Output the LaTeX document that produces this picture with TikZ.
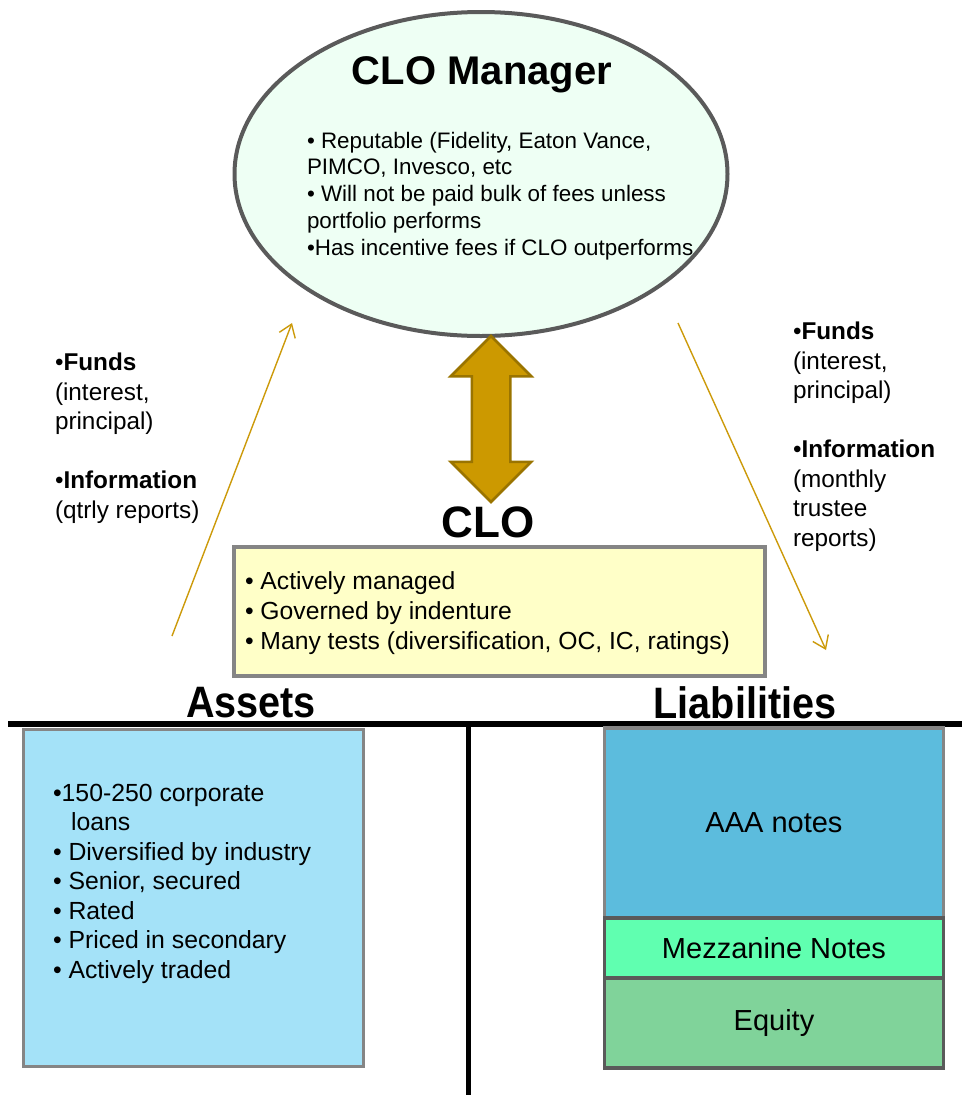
\documentclass[tikz,border=0pt]{standalone}
\usepackage{fontspec}
\setmainfont{Liberation Sans}
\newfontfamily\narrowfont[FakeStretch=0.9]{Liberation Sans}
\usetikzlibrary{shapes.geometric, shapes.arrows, arrows.meta, positioning}
\definecolor{mgrfill}{HTML}{EEFFF4}
\definecolor{mgrline}{HTML}{5A5A5A}
\definecolor{gold}{HTML}{CC9900}
\definecolor{goldline}{HTML}{9A7400}
\definecolor{flowline}{HTML}{CC9A0A}
\definecolor{clofill}{HTML}{FFFFC8}
\definecolor{boxline}{HTML}{858585}
\definecolor{assetfill}{HTML}{A4E2F8}
\definecolor{aaafill}{HTML}{5CBCDD}
\definecolor{mezzfill}{HTML}{60FFB0}
\definecolor{equityfill}{HTML}{80D39A}
\definecolor{tierline}{HTML}{5A5A5A}

\begin{document}
\begin{tikzpicture}[x=1pt, y=-1pt,
    every node/.style={inner sep=0pt, outer sep=0pt},
    mgr/.style={ellipse, draw=mgrline, fill=mgrfill, line width=4pt,
                minimum width=493pt, minimum height=324pt},
    dblarrow/.style={double arrow, rotate=90, draw=goldline, fill=gold,
                line width=2.5pt, minimum height=166pt, inner xsep=0pt,
                inner ysep=18pt, double arrow head extend=21pt,
                double arrow head indent=0pt},
    clobox/.style={draw=boxline, fill=clofill, line width=4pt,
                minimum width=531pt, minimum height=129pt},
    assetbox/.style={draw=boxline, fill=assetfill, line width=3pt,
                minimum width=340pt, minimum height=337pt},
    tier/.style={draw=tierline, line width=3.5pt, minimum width=339pt,
                font=\fontsize{29}{32}\selectfont},
    title/.style={font=\bfseries\fontsize{40}{44}\selectfont},
    side/.style={font=\narrowfont\bfseries\fontsize{44}{48}\selectfont},
    body/.style={align=left, anchor=north west},
    flow/.style={draw=flowline, line width=1.4pt,
                -{Straight Barb[length=12pt, width=17pt]}},
    rule/.style={line width=6pt, black}
]
    \useasboundingbox (0,0) rectangle (962,1095);

    % manager
    \node[mgr] (mgr) at (481,174) {};
    \node[title] (mgrtitle) at (482,75) {CLO Manager};
    \node[body, font=\fontsize{22.4}{26.7}\selectfont] (mgrtext) at (307,132)
        {\textbullet\ Reputable (Fidelity, Eaton Vance,\\
         PIMCO, Invesco, etc\\
         \textbullet\ Will not be paid bulk of fees unless\\
         portfolio performs\\
         \textbullet Has incentive fees if CLO outperforms};

    \node[dblarrow] (link) at (491,419) {};

    % CLO
    \node[title, font=\bfseries\fontsize{44}{48}\selectfont] (clo) at (488,522) {CLO};
    \node[clobox] (clobox) at (499.5,611.5) {};
    \node[body, font=\fontsize{24.7}{30}\selectfont] (clotext) at (245,572)
        {\textbullet\ Actively managed\\
         \textbullet\ Governed by indenture\\
         \textbullet\ Many tests (diversification, OC, IC, ratings)};

    % flows
    \node[body, font=\fontsize{24.3}{29.5}\selectfont] (leftinfo) at (55,353)
        {\textbullet\textbf{Funds}\\ (interest,\\ principal)\\[29.5pt]
         \textbullet\textbf{Information}\\ (qtrly reports)};
    \node[body, font=\fontsize{24.3}{29.5}\selectfont] (rightinfo) at (793,322)
        {\textbullet\textbf{Funds}\\ (interest,\\ principal)\\[29.5pt]
         \textbullet\textbf{Information}\\ (monthly\\ trustee\\ reports)};
    \coordinate (up0) at (172,636);
    \coordinate (up1) at (292,323);
    \coordinate (dn0) at (678,323);
    \coordinate (dn1) at (826,650);
    \draw[flow] (up0) -- (up1);
    \draw[flow] (dn0) -- (dn1);

    % balance sheet
    \node[side] (assets) at (251,703) {Assets};
    \node[side] (liab) at (745,703) {Liabilities};
    \draw[rule] (8,724) -- (962,724);
    \draw[rule, line width=5pt] (468,724) -- (468,1095);

    \node[assetbox] (assetbox) at (193.5,898) {};
    \node[body, font=\fontsize{24.8}{29.5}\selectfont] (assettext) at (53,784)
        {\textbullet 150-250 corporate\\
         \hspace*{18pt}loans\\
         \textbullet\ Diversified by industry\\
         \textbullet\ Senior, secured\\
         \textbullet\ Rated\\
         \textbullet\ Priced in secondary\\
         \textbullet\ Actively traded};

    \node[tier, draw=boxline, fill=aaafill, minimum height=190pt] (aaa) at (774,823) {AAA notes};
    \node[tier, fill=mezzfill, minimum height=60pt] (mezz) at (774,948) {Mezzanine Notes};
    \node[tier, fill=equityfill, minimum height=90pt] (equity) at (774,1023) {Equity};
\end{tikzpicture}
\end{document}
